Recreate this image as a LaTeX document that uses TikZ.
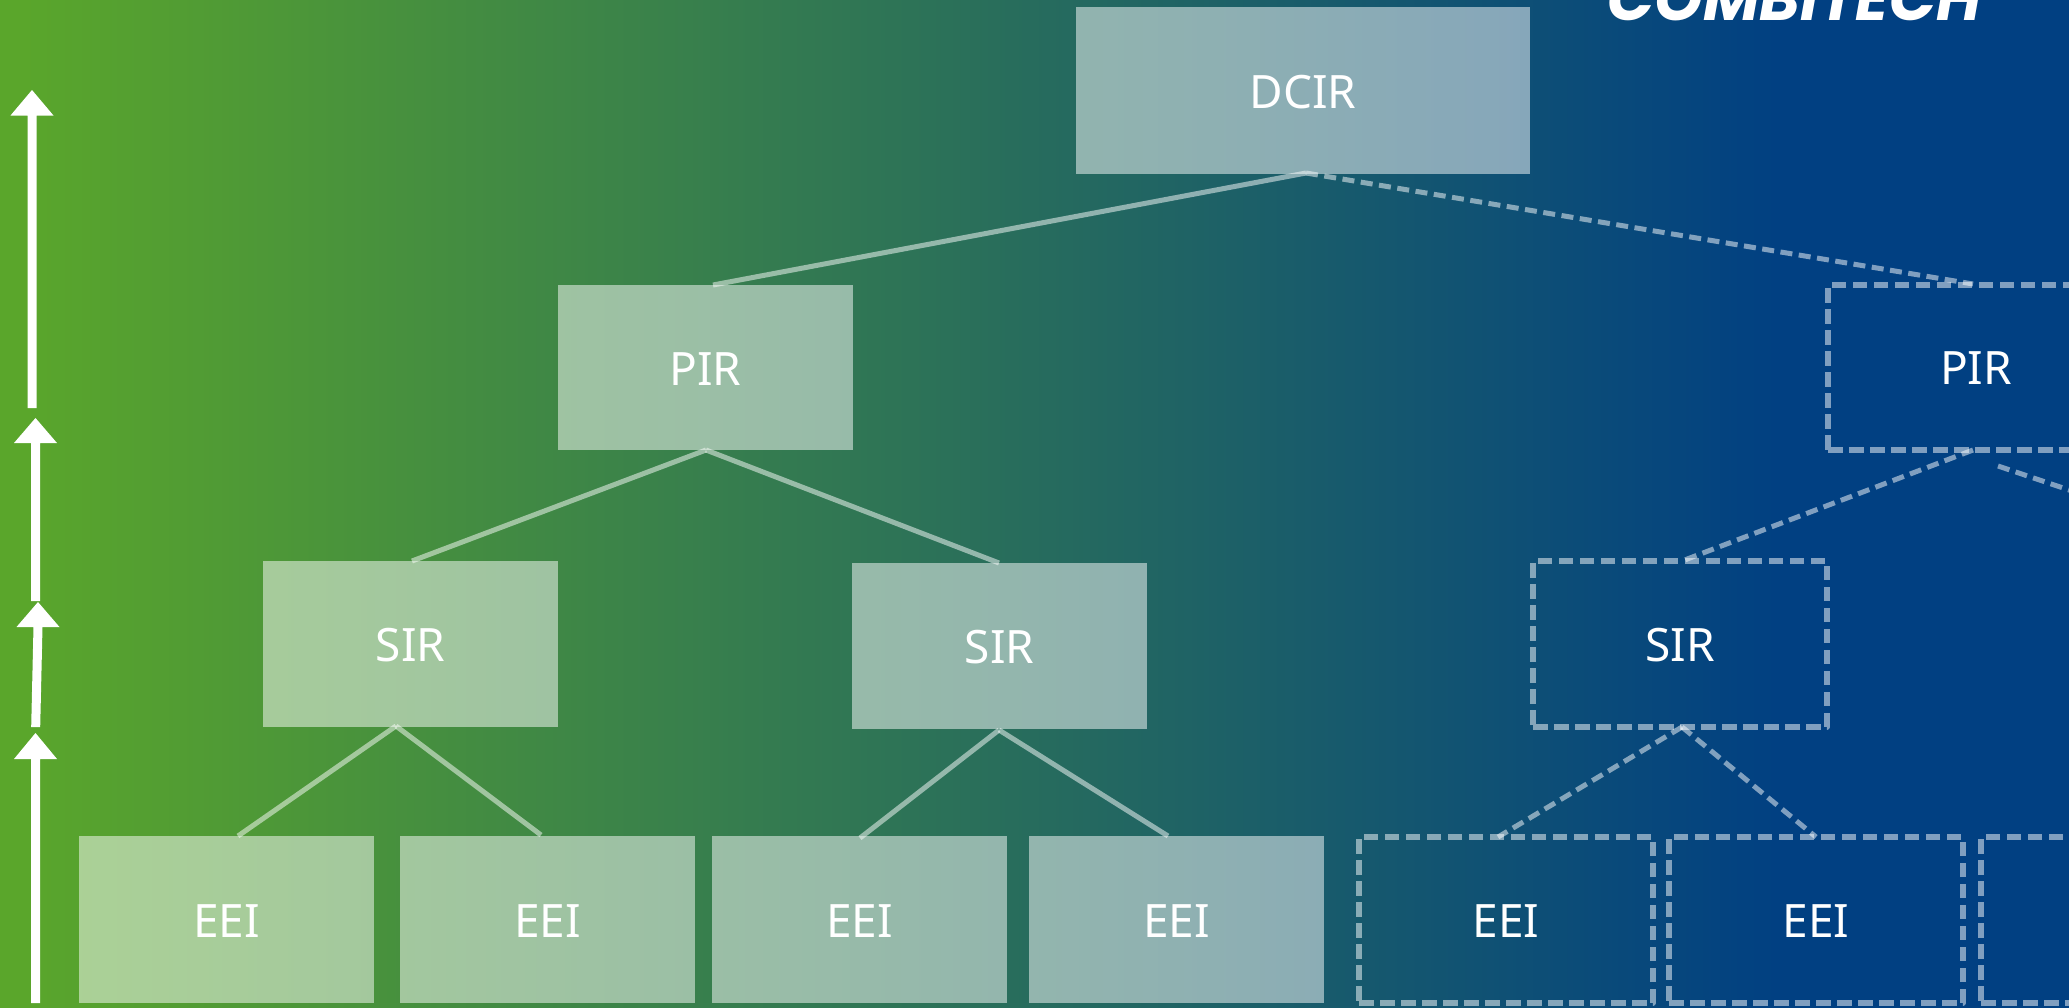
\documentclass[tikz,border=0pt]{standalone}
\usepackage{fontspec}
\setmainfont{Noto Sans}
\newfontfamily\logofont{Poppins}
\usetikzlibrary{calc}
\definecolor{gradgreen}{HTML}{5AA62B}
\definecolor{gradmid}{HTML}{2D7357}
\definecolor{gradblue}{HTML}{014082}
\pgfdeclarehorizontalshading{bggrad}{100bp}{
  color(0bp)=(gradgreen);
  color(25.5bp)=(gradgreen);
  color(47bp)=(gradmid);
  color(68bp)=(gradblue);
  color(100bp)=(gradblue)}
\tikzset{
  solidbox/.style={fill=white,fill opacity=.5,text opacity=1,text=white,inner sep=0pt,outer sep=0pt,
    text height=35pt,text depth=0pt,
    minimum width=295pt,minimum height=167pt,anchor=north west,font=\fontsize{46}{50}\selectfont},
  dashbox/.style={draw=white,draw opacity=.5,line width=5.5pt,text=white,text opacity=1,
    text height=35pt,text depth=0pt,
    dash pattern=on 14.5pt off 6.5pt,line join=round,inner sep=0pt,outer sep=0pt,
    minimum width=294pt,minimum height=166pt,anchor=north west,font=\fontsize{46}{50}\selectfont},
  solidlink/.style={draw=white,draw opacity=.5,line width=5pt},
  dashlink/.style={draw=white,draw opacity=.5,line width=5pt,dash pattern=on 12pt off 6.5pt},
  levelarrow/.style={draw=none,fill=white}
}
\newcommand{\uparrowshape}[6]{% bottom x, bottom y, tip x, tip y, base y, name
  \fill[levelarrow] ($(#1,#2)+(-4.5,0)$) -- ($(#3,#5)+(-4.5,0)$) -- ($(#3,#5)+(-21.5,0)$) -- (#3,#4)
    -- ($(#3,#5)+(21.5,0)$) -- ($(#3,#5)+(4.5,0)$) -- ($(#1,#2)+(4.5,0)$) -- cycle;
  \coordinate (#6) at (#3,#4);
}
\begin{document}
\begin{tikzpicture}[x=1pt,y=-1pt]
\useasboundingbox (0,0) rectangle (2069,1007);
\clip (0,0) rectangle (2069,1007);
\shade[shading=bggrad] (0,0) rectangle (2069,1007);

% logo (cut by the top edge)
\node[anchor=base east,inner sep=0pt,text=white,font=\logofont\bfseries\itshape\fontsize{62}{64}\selectfont] (logo) at (1982,20) {COMBITECH};

% solid boxes
\node[solidbox,minimum width=454pt] (dcir) at (1076,7) {DCIR};
\node[solidbox,minimum height=165pt] (pira) at (558,285) {PIR};
\node[solidbox,minimum height=166pt] (sira) at (263,561) {SIR};
\node[solidbox,minimum height=166pt] (sirb) at (852,563) {SIR};
\node[solidbox] (eeia) at (79,836) {EEI};
\node[solidbox] (eeib) at (400,836) {EEI};
\node[solidbox] (eeic) at (712,836) {EEI};
\node[solidbox] (eeid) at (1029,836) {EEI};

% dashed boxes
\node[dashbox,minimum height=165pt] (pirb) at (1828,285) {};
\node[text=white,font=\fontsize{46}{50}\selectfont,inner sep=0pt] (pirblabel) at (1976,368.5) {PIR};
\node[dashbox] (sirc) at (1533,561) {SIR};
\node[dashbox] (eeie) at (1359,837) {EEI};
\node[dashbox] (eeif) at (1669,837) {EEI};
\node[dashbox] (eeig) at (1981,837) {};

% connector end points on the box edges
\coordinate (dcirS) at (1306,173);
\coordinate (piraN) at (713,285);
\coordinate (pirbN) at (1973,284);
\coordinate (piraS) at (706,450);
\coordinate (siraN) at (412,561);
\coordinate (sirbN) at (999,563);
\coordinate (siraS) at (396,726);
\coordinate (eeiaN) at (238,836);
\coordinate (eeibN) at (541,835);
\coordinate (sirbS) at (999,730);
\coordinate (eeicN) at (860,838);
\coordinate (eeidN) at (1168,836);
\coordinate (pirbS) at (1973,450);
\coordinate (sircN) at (1682,561);
\coordinate (pirbT) at (1998,466);
\coordinate (offR) at (2075,492);
\coordinate (sircS) at (1682,727);
\coordinate (eeieN) at (1498,837);
\coordinate (eeifN) at (1816,837);

\draw[solidlink] (dcirS) -- (piraN);
\draw[dashlink] (dcirS) -- (pirbN);
\draw[solidlink] (piraS) -- (siraN);
\draw[solidlink] (piraS) -- (sirbN);
\draw[solidlink] (siraS) -- (eeiaN);
\draw[solidlink] (siraS) -- (eeibN);
\draw[solidlink] (sirbS) -- (eeicN);
\draw[solidlink] (sirbS) -- (eeidN);
\draw[dashlink] (pirbS) -- (sircN);
\draw[dashlink] (pirbT) -- (offR);
\draw[dashlink] (sircS) -- (eeieN);
\draw[dashlink] (sircS) -- (eeifN);

% level arrows
\uparrowshape{32}{408}{32}{90}{115.5}{arrowa}
\uparrowshape{35.5}{601}{35.5}{418}{443}{arrowb}
\uparrowshape{35.7}{727}{38}{602}{627}{arrowc}
\uparrowshape{35.5}{1003}{35.5}{733}{759}{arrowd}
\end{tikzpicture}
\end{document}
